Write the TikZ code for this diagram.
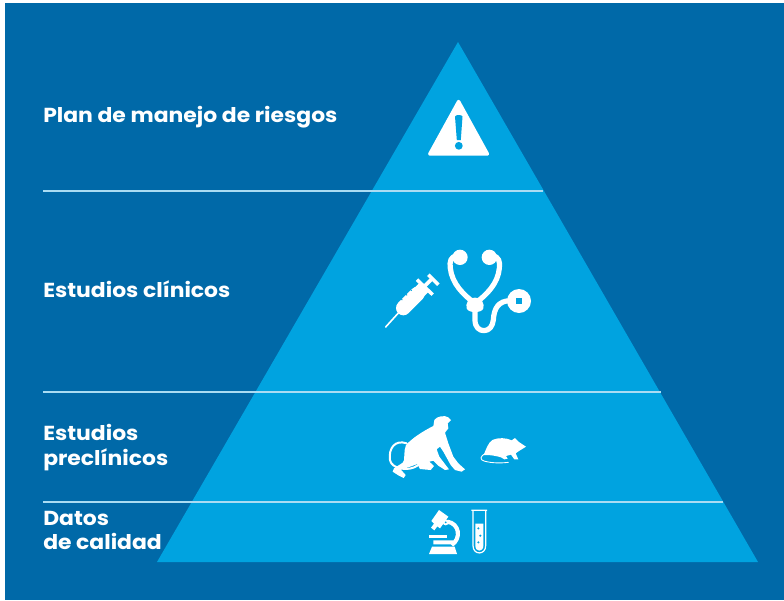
\documentclass[tikz,border=0pt]{standalone}
\usepackage{fontspec}
\setmainfont{Poppins}[FakeStretch=1.08]
\definecolor{fondo}{RGB}{0,105,168}
\definecolor{piramide}{RGB}{0,163,224}
\definecolor{linea}{RGB}{170,220,243}
\tikzset{
  etiqueta/.style={anchor=base west,inner sep=0pt,text=white,font=\fontsize{15.2pt}{18pt}\selectfont\bfseries},
  nivel/.style={draw=linea,line width=0.8},
  icono/.style={fill=white,draw=none},
  trazo/.style={draw=white,line cap=round,line join=round}
}
\begin{document}
\begin{tikzpicture}[x=0.75pt,y=0.75pt,yscale=-1,xscale=1]
\path[use as bounding box] (0,0) rectangle (784,600);

%Shape: Rectangle
\fill[fondo] (5,3) rectangle (784,600);
%Shape: Triangle
\fill[piramide] (458,42) -- (758,562) -- (157,562) -- cycle;

%Straight Lines
\draw[nivel] (43,191) -- (543,191);
\draw[nivel] (43,392) -- (661,392);
\draw[nivel] (43,502) -- (723,502);

%Warning sign
\draw[icono,draw=white,line width=2.5,line join=round] (458.6,101.5) -- (487.5,154) -- (429.7,154) -- cycle;
\fill[piramide] (455,116.5) .. controls (455,114.5) and (462.5,114.5) .. (462.5,116.5) -- (460.8,140) -- (456.8,140) -- cycle;
\fill[piramide] (458.8,145.8) circle (3.9);

%Syringe
\begin{scope}[shift={(380,268)},scale=1/3]
\draw[trazo,line width=1.2pt] (17,177) -- (55,135);
\draw[trazo,line width=11pt] (70,120) -- (112,78);
\draw[white,line width=9.5pt] (100,90) -- (131,59);
\draw[white,line width=2.6pt] (111,35) -- (158,80);
\draw[white,line width=2.8pt] (130,58) -- (158,30);
\draw[white,line width=2.6pt] (145,20) -- (175,50);
\draw[piramide,line width=0.7pt] (58,87) -- (67,96) (72,73) -- (81,82) (86,59) -- (95,68);
\end{scope}

%Stethoscope
\begin{scope}[shift={(370,240)},scale=1/3]
\fill[white] (270,52) circle (23);
\fill[white] (358,52) circle (23);
\draw[trazo,line width=3.9pt] (260,47) .. controls (242,50) and (238,65) .. (241,85) .. controls (246,130) and (280,165) .. (315,190) .. controls (350,165) and (384,130) .. (388,85) .. controls (391,65) and (386,50) .. (368,47);
\fill[white] (315,173) .. controls (336,173) and (344,192) .. (340,205) .. controls (336,220) and (294,220) .. (290,205) .. controls (286,192) and (294,173) .. (315,173) -- cycle;
\draw[trazo,line width=3.9pt] (315,210) -- (315,240) .. controls (315,262) and (328,272) .. (342,272) .. controls (358,272) and (368,258) .. (370,240) .. controls (372,205) and (385,183) .. (420,182);
\fill[white] (447,183) circle (36);
\fill[piramide] (439,175) rectangle (455,191);
\end{scope}

%Monkey
\begin{scope}[shift={(380,410)},scale=1/3]
\fill[white] (163,30) .. controls (170,18) and (195,15) .. (205,22) -- (213,30) -- (203,40) -- (205,55) -- (195,68) -- (205,100) -- (220,140) -- (235,160) -- (255,178) -- (245,185) -- (225,180) -- (212,165) -- (190,125) -- (180,110) -- (170,118) -- (178,140) -- (197,165) -- (207,178) -- (195,180) -- (175,167) -- (160,152) -- (148,155) -- (162,168) -- (152,180) -- (120,177) -- (112,162) -- (85,172) -- (62,178) -- (77,195) -- (71,204) -- (55,196) -- (38,185) -- (42,175) -- (68,158) -- (72,150) -- (74,120) -- (78,105) .. controls (98,83) and (130,63) .. (160,48) -- cycle;
\draw[trazo,line width=1.5pt] (80,100) .. controls (45,88) and (25,115) .. (30,150) .. controls (33,175) and (85,188) .. (115,165);
\end{scope}

%Rat
\begin{scope}[shift={(475,430)},scale=1/3]
\fill[white] (153,50) -- (132,36) -- (120,24) -- (110,31) .. controls (95,23) and (68,22) .. (52,30) .. controls (40,38) and (34,55) .. (26,75) .. controls (45,74) and (65,78) .. (78,82) -- (88,88) -- (98,86) -- (93,78) -- (108,74) -- (118,88) -- (130,88) -- (122,70) -- (132,63) -- cycle;
\draw[trazo,line width=0.65pt] (32,70) .. controls (15,78) and (12,90) .. (30,94) .. controls (50,99) and (75,100) .. (100,97);
\end{scope}

%Microscope
\begin{scope}[shift={(420,505)},scale=1/3]
\fill[white] (57,15) -- (85,35) -- (60,70) -- (52,64) -- (43,76) -- (33,68) -- (42,56) -- (34,48) -- cycle;
\draw[white,line width=3.1pt] (82,50) .. controls (118,55) and (125,100) .. (95,120);
\fill[white] (77,52) circle (9);
\fill[piramide] (77,52) circle (3);
\fill[white] (27,91) rectangle (82,98);
\fill[white] (40,106) -- (98,106) .. controls (108,106) and (108,118) .. (98,118) -- (40,118) -- cycle;
\fill[white] (36,125) -- (104,125) -- (111,147) -- (27,147) -- cycle;
\end{scope}

%Test tube
\begin{scope}[shift={(370,400)},scale=1/3]
\draw[white,line width=0.9pt,line join=round] (304,331) -- (351,331) (309,331) -- (309,437) .. controls (309,466) and (347,466) .. (347,437) -- (347,331);
\fill[white] (316,371) -- (340,371) -- (340,437) .. controls (340,457) and (316,457) .. (316,437) -- cycle;
\fill[piramide] (325,385) circle (3.5);
\fill[piramide] (331,407) circle (3.5);
\fill[piramide] (325,427) circle (3.5);
\end{scope}

% Text Node
\draw (43,122) node(riesgos) [etiqueta] {Plan de manejo de riesgos};
% Text Node
\draw (43,297) node(clinicos) [etiqueta] {Estudios clínicos};
% Text Node
\draw (43,440.5) node(estudios) [etiqueta] {Estudios};
% Text Node
\draw (43,465) node(preclinicos) [etiqueta] {preclínicos};
% Text Node
\draw (43,525.5) node(datos) [etiqueta] {Datos};
% Text Node
\draw (43,549.5) node(calidad) [etiqueta] {de calidad};

\end{tikzpicture}
\end{document}
